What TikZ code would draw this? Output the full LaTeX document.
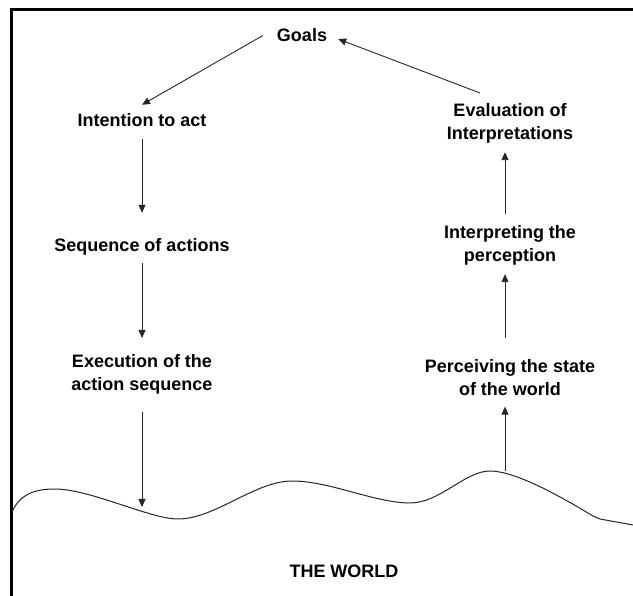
\documentclass[tikz,border=0pt]{standalone}
\usepackage{fontspec}
\setmainfont{Liberation Sans}
\usetikzlibrary{arrows.meta}
\begin{document}
\begin{tikzpicture}[x=1pt,y=-1pt,
  lbl/.style={font=\fontsize{18}{23}\selectfont\bfseries, inner sep=0pt, align=center},
  arr/.style={-{Triangle[length=8pt,width=7pt]}, line width=0.9pt, draw=black!85},
  framestyle/.style={line width=2.7pt},
  wave/.style={line width=1pt, draw=black!85}]
\useasboundingbox (0,0) rectangle (633,596);
% frame
\draw[framestyle] (633,9.3) -- (11.5,9.3) -- (11.5,596);
% world wave
\draw[wave] (12,512) .. controls (20,494) and (35,489) .. (55,489)
  .. controls (90,489) and (150,519) .. (178,519)
  .. controls (215,519) and (255,481) .. (292,481)
  .. controls (330,481) and (375,503) .. (410,503)
  .. controls (440,503) and (465,471) .. (490,471)
  .. controls (515,471) and (560,496) .. (593,516)
  -- (600,519) -- (633,525);
\coordinate (w1) at (142,507);
\coordinate (w2) at (505,471);
% nodes
\node[lbl, anchor=base] (goals) at (302,42) {Goals};
\node[lbl, anchor=base] (int) at (142,127) {Intention to act};
\node[lbl, anchor=base] (seq) at (142,252) {Sequence of actions};
\node[lbl, anchor=north] (exe) at (142,354) {Execution of the\\action sequence};
\node[lbl, anchor=north] (eval) at (510,103) {Evaluation of\\Interpretations};
\node[lbl, anchor=north] (interp) at (510,225) {Interpreting the\\perception};
\node[lbl, anchor=north] (perc) at (510,359) {Perceiving the state\\of the world};
\node[lbl, anchor=base] (world) at (344,578) {THE WORLD};
% connectors
\draw[arr] ([xshift=-14pt]goals.west) -- ([yshift=9pt]int.north);
\draw[arr] ([xshift=-30pt,yshift=10pt]eval.north) -- ([xshift=11pt,yshift=-3.5pt]goals.east);
\draw[arr] ([yshift=-12pt]int.south) -- ([yshift=26pt]seq.north);
\draw[arr] ([yshift=-7pt]seq.south) -- ([yshift=16pt]exe.north);
\draw[arr] ([yshift=-18pt]exe.south) -- (w1);
\draw[arr] (w2) -- ([xshift=-5pt,yshift=-11pt]perc.south);
\draw[arr] ([xshift=-5pt,yshift=21pt]perc.north) -- ([xshift=-5pt,yshift=-9pt]interp.south);
\draw[arr] ([xshift=-5pt,yshift=11pt]interp.north) -- ([xshift=-5pt,yshift=-9pt]eval.south);
\end{tikzpicture}
\end{document}
